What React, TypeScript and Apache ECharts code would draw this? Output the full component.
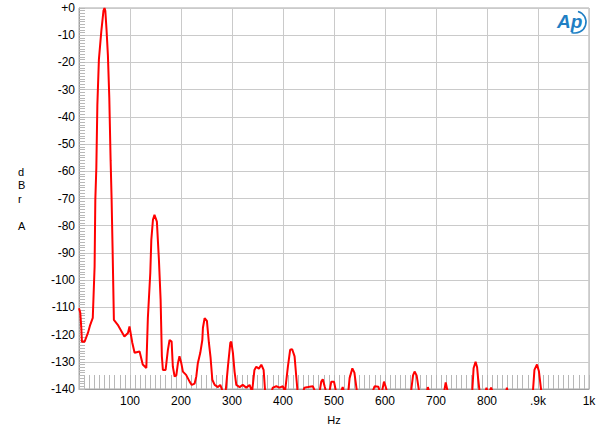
import React, { useEffect, useRef } from "react";
import * as echarts from "echarts";

const freqHz = [
  0, 2.5, 4.5, 5.7, 11, 17.5, 22, 27, 30.6, 32, 34, 36, 39, 43.7, 48, 50, 51.6, 54, 56.7, 59.4, 62, 63.9,
  65.9, 68.4, 76, 89, 96, 99, 104.5, 109, 118.8, 125, 132, 135, 139.8, 141.8, 145, 148, 152.7, 156.7, 160,
  162.5, 164.5, 169.8, 174.3, 177.6, 181.6, 184, 187.5, 190.8, 194, 197, 200.6, 203.7, 210, 216.9, 221,
  226.7, 230, 233, 237.8, 241.8, 243, 246.3, 250.8, 254.7, 258, 261.4, 266, 272.4, 277, 282, 287.5, 292,
  296.7, 298.6, 301.8, 305, 308.4, 315, 321, 328, 334.5, 339.4, 344, 347.6, 352.7, 357.5, 362, 365, 377.6,
  380, 386.9, 393, 399.8, 404, 409.6, 414, 418, 422.7, 426, 428.6, 439.4, 442, 449, 458.6, 463, 471.8, 475,
  478, 481.6, 484.5, 491, 494.7, 500, 504, 514, 517, 519.7, 528, 530.6, 536, 540, 545, 575.7, 579.6, 587,
  590, 594, 598, 601, 604, 651, 655, 658, 662, 667, 682, 684, 686.5, 716, 719, 723, 771, 773.7, 777.6,
  780.6, 782.5, 785.5, 797, 799, 801, 805, 808, 811, 837.5, 839, 840.4, 890, 893, 898, 901.8, 906.5, 1000,
];

const levelDbr = [
  -110.3, -112, -117.5, -122.6, -122.6, -119.4, -116.4, -113.9, -95, -70.5, -58.7, -35.6, -19, -8.7, -1, 0,
  -1, -8, -17.5, -33, -56, -70, -88.9, -114.6, -116.4, -120.7, -119.4, -117, -123, -126.7, -126.2, -131,
  -132.3, -114, -97.3, -85.2, -77.8, -76, -78.5, -92.5, -107, -128, -133, -133, -125.6, -122, -122.6,
  -131.8, -135.4, -135, -130.5, -128, -130.5, -133.6, -134.8, -137.3, -138.5, -138, -135.4, -130.5, -126.7,
  -122, -117.5, -114, -115, -123, -128.5, -136.6, -138.5, -139.3, -138.5, -141, -141, -131.8, -123, -122.6,
  -126.7, -133.6, -138.5, -139.3, -138.5, -139.5, -138.5, -141, -133, -131.8, -132.5, -131.1, -133, -141,
  -141, -139.5, -139, -139.5, -139, -141, -131.8, -125.6, -125.4, -128, -135.4, -141, -141, -139.5, -139.3,
  -139, -141, -141, -137.3, -136.4, -139, -141, -141, -137.3, -137.3, -141, -141, -139.3, -141, -141, -136,
  -132.4, -134, -141, -141, -139, -139.2, -141, -141, -137.3, -139, -141, -141, -135, -133.6, -135, -141,
  -141, -139.3, -141, -141, -137.6, -141, -141, -132.4, -130, -132, -136, -141, -141, -139.5, -141, -141,
  -139.5, -141, -141, -139.5, -141, -141, -133, -131, -133.5, -141, -141,
];

const xTickLabels: Record<number, string> = {
  0: "",
  100: "100",
  200: "200",
  300: "300",
  400: "400",
  500: "500",
  600: "600",
  700: "700",
  800: "800",
  900: ".9k",
  1000: "1k",
};

const yTickLabels: Record<number, string> = {
  0: "+0",
  [-10]: "-10",
  [-20]: "-20",
  [-30]: "-30",
  [-40]: "-40",
  [-50]: "-50",
  [-60]: "-60",
  [-70]: "-70",
  [-80]: "-80",
  [-90]: "-90",
  [-100]: "-100",
  [-110]: "-110",
  [-120]: "-120",
  [-130]: "-130",
  [-140]: "-140",
};

const FONT = "Arial, 'Liberation Sans', sans-serif";
const TICK = "#b8b8b8";

export default function App() {
  const ref = useRef<HTMLDivElement>(null);

  useEffect(() => {
    if (!ref.current) return;
    const chart = echarts.init(ref.current, null, { renderer: "svg" });
    const data = freqHz.map((f, i) => [f, levelDbr[i]]);
    chart.setOption({
      animation: false,
      backgroundColor: "#ffffff",
      grid: {
        left: 79,
        right: 11,
        top: 8,
        bottom: 45,
        show: true,
        borderColor: "#a8a8a8",
        borderWidth: 1,
      },
      xAxis: {
        type: "value",
        min: 0,
        max: 1000,
        interval: 100,
        name: "Hz",
        nameLocation: "middle",
        nameGap: 25,
        nameTextStyle: { color: "#000", fontSize: 11, fontFamily: FONT },
        axisLine: { show: true, onZero: false, lineStyle: { color: "#a0a0a0" } },
        axisTick: { show: true, inside: true, length: 14, lineStyle: { color: TICK, width: 1 } },
        minorTick: { show: true, splitNumber: 10, length: 14, lineStyle: { color: TICK, width: 1 } },
        axisLabel: {
          color: "#000",
          fontSize: 12,
          fontFamily: FONT,
          margin: 6,
          formatter: (v: number) => xTickLabels[v] ?? "",
        },
        splitLine: { show: true, lineStyle: { color: "#cacaca", width: 1 } },
      },
      yAxis: {
        type: "value",
        min: -140,
        max: 0,
        interval: 10,
        axisLine: { show: true, onZero: false, lineStyle: { color: "#a0a0a0" } },
        axisTick: { show: true, inside: true, length: 6, lineStyle: { color: TICK, width: 1 } },
        minorTick: { show: true, splitNumber: 10, length: 6, lineStyle: { color: TICK, width: 1 } },
        axisLabel: {
          color: "#000",
          fontSize: 12,
          fontFamily: FONT,
          margin: 4,
          formatter: (v: number) => yTickLabels[v] ?? "",
        },
        splitLine: { show: true, lineStyle: { color: "#cacaca", width: 1 } },
      },
      graphic: [
        {
          type: "text",
          left: 18,
          top: 165,
          style: {
            text: "d\nB\nr\n\nA",
            fill: "#000",
            font: `11px ${FONT}`,
            lineHeight: 13.5,
            align: "center",
          },
        },
        {
          type: "text",
          x: 557,
          y: 12,
          style: {
            text: "Ap",
            fill: "#1f7fc4",
            font: `italic bold 19px ${FONT}`,
          },
        },
        {
          type: "arc",
          shape: { cx: 575, cy: 22, r: 11, startAngle: -1.3, endAngle: 1.9 },
          style: { stroke: "#1f7fc4", lineWidth: 1.6, fill: "none" },
        },
      ],
      series: [
        {
          type: "line",
          data,
          showSymbol: false,
          clip: true,
          z: 5,
          lineStyle: { color: "#ff0000", width: 2 },
          itemStyle: { color: "#ff0000" },
        },
      ],
    });
    return () => chart.dispose();
  }, []);

  return (
    <div
      ref={ref}
      style={{ position: "fixed", left: 0, top: 0, width: 600, height: 434, background: "#fff" }}
    />
  );
}
